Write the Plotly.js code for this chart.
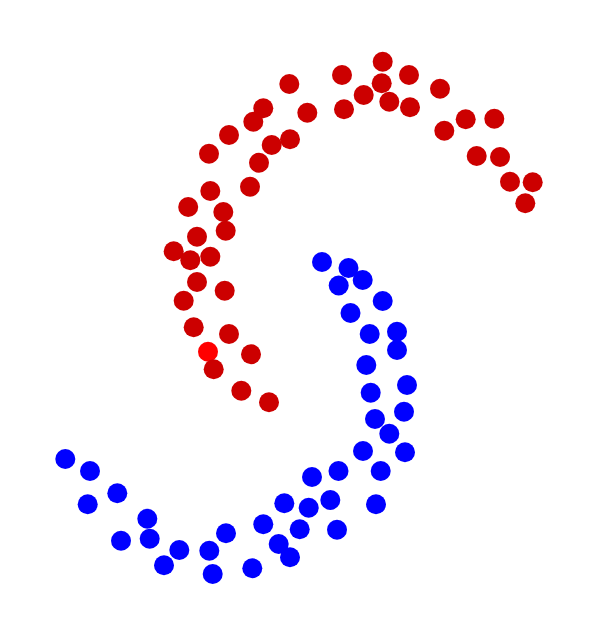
<!DOCTYPE html>
<html>
<head>
<meta charset="utf-8">
<script src="https://cdn.plot.ly/plotly-3.0.1.min.js"></script>
<style>html,body{margin:0;padding:0;background:#fff;}#chart{width:602px;height:622px;}</style>
</head>
<body>
<div id="chart"></div>
<script>
// Class 0 (red, upper moon)
const redX = [208, 382.7, 342, 409, 381.7, 363.7, 389.3, 410, 344, 440, 444.3, 465.7, 494.3, 476.7, 500, 510, 532.7, 525.3,
  289.3, 263.3, 253.3, 307.3, 229, 209, 271.7, 290, 259, 250, 210.3, 188.2, 223.3,
  225.7, 197, 173.7, 190.3, 210.3, 197, 224.7, 183.7, 193.7, 229, 251, 213.7, 241.3, 269];
const redY = [351.7, 61.7, 75, 75, 83.3, 95, 101.7, 107.3, 109.3, 88.7, 130.7, 119.3, 118.7, 156, 157, 181.7, 182.3, 203.3,
  84, 108.3, 121.7, 112.7, 135, 153.7, 145, 139.3, 162.7, 186.7, 191, 207, 212,
  230.7, 236.7, 251.3, 260.3, 256.7, 282, 290.7, 300.7, 327.3, 334, 354.3, 369.3, 390.7, 402.3];
const redColors = redX.map((_, i) => i === 0 ? 'rgb(255,0,0)' : 'rgb(204,0,0)');

// Class 1 (blue, lower moon)
const blueX = [322, 348.5, 338.7, 362.7, 382.7, 350.5, 369.7, 397, 397, 366.3, 407, 370.7, 404, 375, 389.3, 363, 405, 338.5, 380.7, 312,
  284.3, 308.7, 330.3, 376, 263.3, 299.7, 337, 226, 278.7, 290, 252.3, 212.7, 209.3, 179.3, 164, 149.7, 147.3, 121, 117.3, 87.7, 90, 65.3];
const blueY = [262, 268, 285.5, 280, 301, 313, 334, 331.7, 350, 365, 385, 392.7, 411.7, 419, 433.7, 451, 452.3, 471, 471, 477,
  503.3, 507.7, 500, 504.3, 524.3, 529.3, 529.7, 533.3, 544, 557.3, 568.3, 574, 550.7, 550, 565.3, 538.7, 518.7, 540.7, 493.3, 504.3, 471, 459];

const data = [
  {x: redX, y: redY, type: 'scatter', mode: 'markers', hoverinfo: 'skip',
   marker: {size: 20, color: redColors, line: {width: 0}}},
  {x: blueX, y: blueY, type: 'scatter', mode: 'markers', hoverinfo: 'skip',
   marker: {size: 20, color: 'rgb(0,0,255)', line: {width: 0}}}
];
const layout = {
  width: 602, height: 622,
  margin: {l: 0, r: 0, t: 0, b: 0},
  paper_bgcolor: '#fff', plot_bgcolor: '#fff',
  showlegend: false,
  xaxis: {range: [0, 602], visible: false, showgrid: false, zeroline: false},
  yaxis: {range: [622, 0], visible: false, showgrid: false, zeroline: false}
};
Plotly.newPlot('chart', data, layout, {staticPlot: true, displayModeBar: false});
</script>
</body>
</html>
